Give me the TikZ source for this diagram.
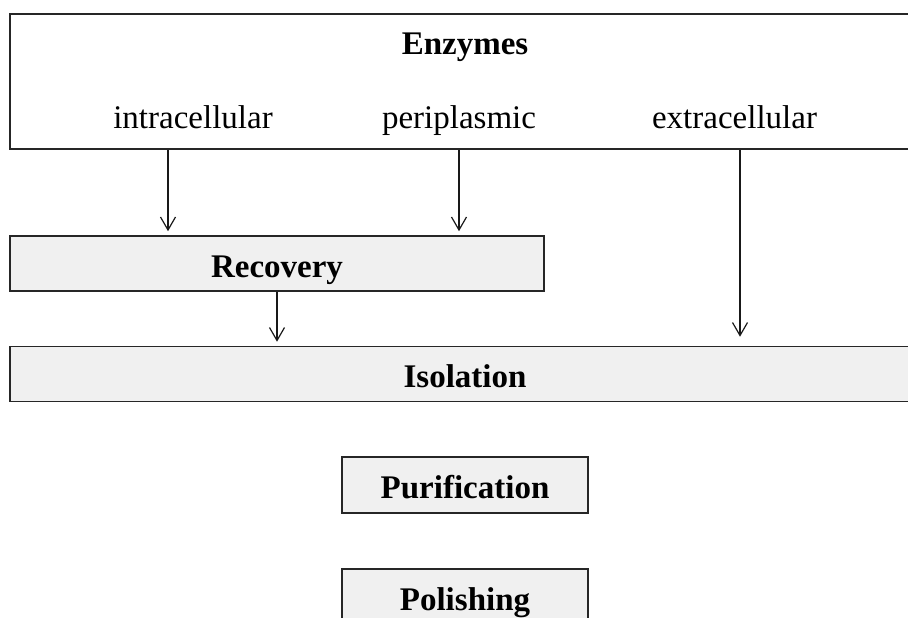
\documentclass[tikz,border=0pt]{standalone}
\usepackage{fontspec}
\setmainfont{Liberation Serif}
\usetikzlibrary{positioning}
\usetikzlibrary{arrows.meta}
\tikzset{stage/.style = {draw=black!85, line width=0.8pt, fill=black!6,
                         inner sep=0pt, text height=13.5pt, text depth=0pt,
                         font=\fontsize{16.5}{19.8}\selectfont\bfseries}}
\tikzset{kind/.style = {anchor=base, inner sep=0pt,
                        font=\fontsize{16.5}{19.8}\selectfont}}
\tikzset{flow/.style = {draw=black!90, line width=0.6pt, shorten >=2pt,
                        -{Straight Barb[length=6.5pt, width=7.5pt]}}}

\begin{document}
\begin{tikzpicture}[x=0.5pt, y=-0.5pt]
      \useasboundingbox (0,0) rectangle (908,617);
      \clip (0,0) rectangle (908,617);
      \node[draw=black!85, line width=0.8pt, inner sep=0pt,
        minimum width=455pt, minimum height=67.5pt] (enz) at (465,81.5) {};
      \node[kind, font=\fontsize{16.5}{19.8}\selectfont\bfseries]
        (title) at (465,54) {Enzymes};
      \node[kind] (intra) at (193,128) {intracellular};
      \node[kind] (peri) at (459,128) {periplasmic};
      \node[kind] (extra) at (734.5,128) {extracellular};
      \node[stage, minimum width=267pt, minimum height=27.5pt]
        (rec) at (277,263.5) {Recovery};
      \node[stage, minimum width=455pt, minimum height=27.5pt]
        (iso) at (465,374) {Isolation};
      \node[stage, minimum width=123pt, minimum height=28pt]
        (pur) at (465,485) {Purification};
      \node[stage, minimum width=123pt, minimum height=28pt]
        (pol) at (465,597) {Polishing};
      \coordinate (out1) at (168,150);
      \coordinate (out2) at (459,150);
      \coordinate (out3) at (740,150);
      \draw[flow] (out1) -- (out1 |- rec.north);
      \draw[flow] (out2) -- (out2 |- rec.north);
      \draw[flow, shorten >=4.5pt] (out3) -- (out3 |- iso.north);
      \draw[flow] (rec.south) -- (rec.south |- iso.north);
    \end{tikzpicture}
\end{document}
